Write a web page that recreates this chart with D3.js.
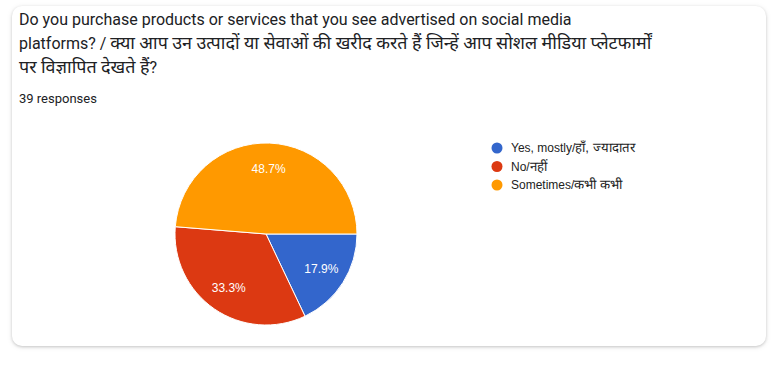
<!DOCTYPE html>
<html><head><meta charset="utf-8">
<script src="https://cdn.jsdelivr.net/npm/d3@7"></script>
<style>
html,body{margin:0;padding:0;background:#fff;}
#card{position:absolute;left:12px;top:6px;width:754px;height:340px;background:#fff;border-radius:10px;box-shadow:0 1px 3px rgba(0,0,0,0.18),0 1px 6px rgba(0,0,0,0.08);}
svg{position:absolute;left:0;top:0;}
</style></head>
<body>
<div id="card"></div>
<svg id="chart" width="778" height="366"></svg>
<script>
const titleLines = [
  "Do you purchase products or services that you see advertised on social media",
  "platforms? / क्या आप उन उत्पादों या सेवाओं की खरीद करते हैं जिन्हें आप सोशल मीडिया प्लेटफार्मों",
  "पर विज्ञापित देखते हैं?"
];
const subtitle = "39 responses";
const categories = ["Yes, mostly/हाँ, ज्यादातर", "No/नहीं", "Sometimes/कभी कभी"];
const counts = [7, 13, 19];
const colors = ["#3366cc", "#dc3912", "#ff9900"];

// write text, giving Devanagari runs a slightly larger size (as rendered in the reference)
function richText(sel, str, size, hindiScale) {
  const parts = str.split(/([\u0900-\u097F][\u0900-\u097F ,]*[\u0900-\u097F]|[\u0900-\u097F])/).filter(s => s.length);
  parts.forEach(p => {
    const isHi = /[\u0900-\u097F]/.test(p);
    sel.append("tspan").attr("font-size", isHi ? size * hindiScale : size).text(p);
  });
}

const svg = d3.select("#chart");
const tg = svg.append("g").attr("font-family", "Roboto, 'Noto Sans', sans-serif").attr("fill", "#202124");
titleLines.forEach((t, i) => {
  const tx = tg.append("text").attr("x", 19).attr("y", 25 + i * 24).attr("font-size", 16);
  richText(tx, t, 16, 1.12);
});
tg.append("text").attr("x", 19).attr("y", 103).attr("font-size", 13).text(subtitle);

const total = d3.sum(counts);
const data = categories.map((c, i) => ({cat: c, value: counts[i], color: colors[i]}));
const pie = d3.pie().value(d => d.value).sort(null).startAngle(Math.PI / 2).endAngle(Math.PI / 2 + 2 * Math.PI);
const r = 91;
const arc = d3.arc().innerRadius(0).outerRadius(r);
const labelArc = d3.arc().innerRadius(r * 0.72).outerRadius(r * 0.72);
const pg = svg.append("g").attr("transform", "translate(266,234)");
const arcs = pie(data);
pg.selectAll("path").data(arcs).join("path")
  .attr("d", arc).attr("fill", d => d.data.color)
  .attr("stroke", "#fff").attr("stroke-width", 1);
pg.selectAll("text").data(arcs).join("text")
  .attr("transform", d => `translate(${labelArc.centroid(d)})`)
  .attr("text-anchor", "middle").attr("dy", "0.35em")
  .attr("font-family", "Arial, 'Liberation Sans', sans-serif").attr("font-size", 12)
  .attr("fill", "#fff")
  .text(d => (d.data.value / total * 100).toFixed(1) + "%");

const lg = svg.append("g").attr("transform", "translate(497,148)")
  .attr("font-family", "Arial, 'Liberation Sans', sans-serif").attr("font-size", 12);
data.forEach((d, i) => {
  const g = lg.append("g").attr("transform", `translate(0,${i * 18.5})`);
  g.append("circle").attr("r", 5.5).attr("fill", d.color);
  const tx = g.append("text").attr("x", 14).attr("dy", "0.35em").attr("fill", "#222");
  richText(tx, d.cat, 12, 1.1);
});
</script>
</body></html>
